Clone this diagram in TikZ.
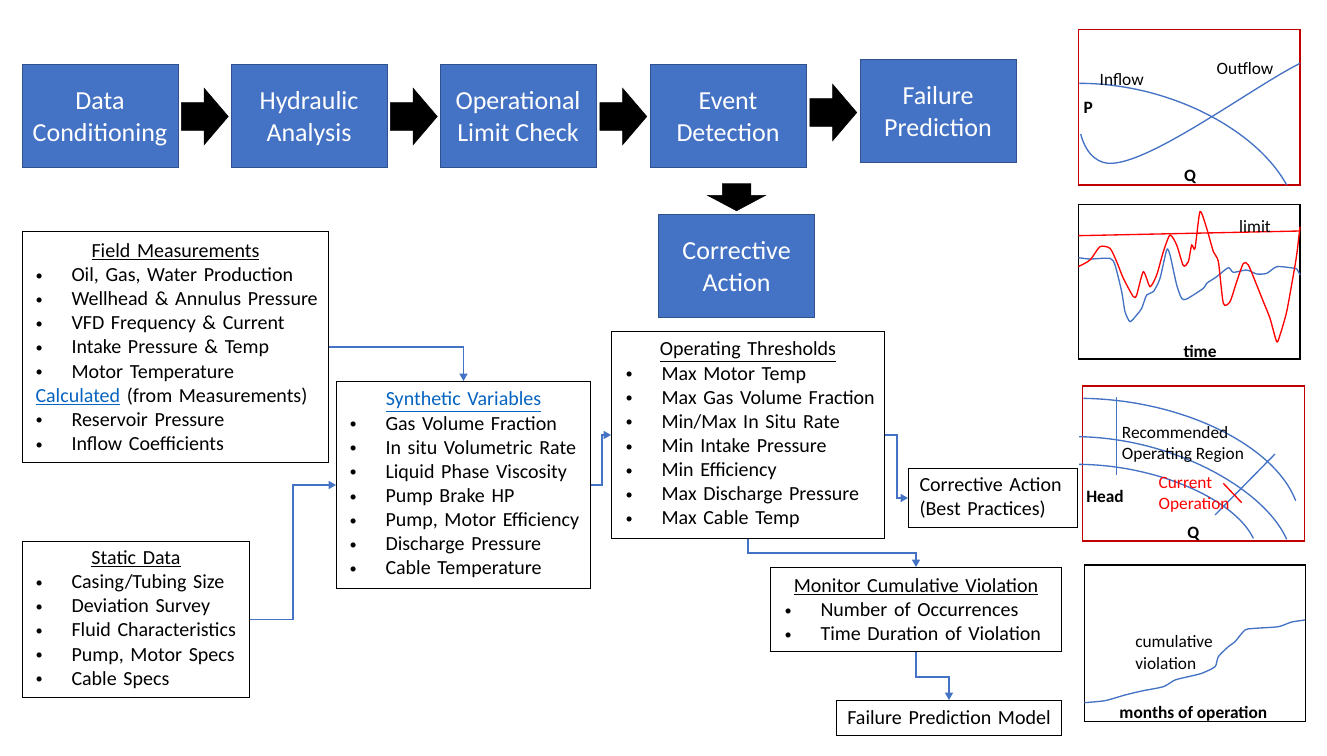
\documentclass[tikz,border=0pt]{standalone}
\usepackage{fontspec}
\setmainfont{Carlito}
\usepackage{tikz}
\usetikzlibrary{positioning,calc,shapes.arrows,arrows.meta}
\definecolor{stepBlue}{HTML}{4472C4}
\definecolor{stepEdge}{HTML}{2F528F}
\definecolor{linkBlue}{HTML}{0563C1}
\definecolor{chartRed}{HTML}{C00000}
\definecolor{curveRed}{HTML}{FF0000}
\setlength{\parindent}{0pt}
\newcommand{\bul}[1]{\mbox{\makebox[27pt][l]{\raisebox{1pt}{\scalebox{0.72}{\textbullet}}}#1}}
\newcommand{\boxhead}[1]{\centerline{\underline{#1}}}
\newcommand{\steptext}[2]{\rule{0pt}{18.75pt}#1\\#2\rule[-4.5pt]{0pt}{4.5pt}}

\begin{document}
\begin{tikzpicture}[x=0.75pt, y=-0.75pt,
	stepbox/.style={draw=stepEdge, line width=0.75pt, fill=stepBlue, text=white, minimum width=117pt, minimum height=77.25pt, align=center, font=\fontsize{19.5}{24}\selectfont},
	bigarrow/.style={single arrow, fill=black, draw=black, line width=0.4pt, inner xsep=0pt, inner ysep=10.125pt, minimum height=35.25pt, single arrow head extend=10.875pt, single arrow tip angle=99, anchor=tail},
	listbox/.style={draw, line width=0.75pt, fill=white, anchor=north west, inner xsep=9.75pt, inner ysep=0pt, align=left, font=\fontsize{15}{18.1}\selectfont},
	flow/.style={draw=stepBlue, line width=0.9pt, -{Triangle[width=6pt,length=5.5pt]}},
	chartlbl/.style={font=\fontsize{13}{16}\selectfont, inner sep=0pt},
	axislbl/.style={font=\fontsize{13}{16}\selectfont\bfseries, inner sep=0pt},
	curve/.style={stepBlue, line width=1pt}]
	\useasboundingbox (0,0) rectangle (1327,756);
	
	% Process blocks
	\node[stepbox] (dc) at (100,116.5) {\steptext{Data}{Conditioning}};
	\node[stepbox, right=39pt of dc] (ha) {\steptext{Hydraulic}{Analysis}};
	\node[stepbox, right=39pt of ha] (olc) {\steptext{Operational}{Limit Check}};
	\node[stepbox, right=39.75pt of olc] (ed) {\steptext{Event}{Detection}};
	\node[stepbox, right=39.75pt of ed, yshift=3.75pt] (fp) {\steptext{Failure}{Prediction}};
	\node[stepbox, below=33.75pt of ed, xshift=6.4pt] (ca) {\steptext{Corrective}{Action}};
	
	% Block arrows
	\node[bigarrow] (a1) at ($(dc.east)!0.5!(ha.west)+(-23.5,0)$) {};
	\node[bigarrow] (a2) at ($(ha.east)!0.5!(olc.west)+(-23.5,0)$) {};
	\node[bigarrow] (a3) at ($(olc.east)!0.5!(ed.west)+(-23.5,0)$) {};
	\node[bigarrow] (a4) at ($(ed.east)!0.5!(fp.west)+(-23.5,-1.5)$) {};
	\node[bigarrow, rotate=-90, inner ysep=10.5pt, minimum height=20.25pt, single arrow head extend=10.875pt, single arrow tip angle=124] (adn) at ($(ca.north)+(0,-30)$) {};
	
	% Data boxes
	\node[listbox, text width=210pt, minimum height=173.25pt] (fm) at (22,231) {\boxhead{Field Measurements}
		\bul{Oil, Gas, Water Production}\\
		\bul{Wellhead \& Annulus Pressure}\\
		\bul{VFD Frequency \& Current}\\
		\bul{Intake Pressure \& Temp}\\
		\bul{Motor Temperature}\\
		\mbox{{\color{linkBlue}\underline{Calculated}} (from Measurements)}\\
		\bul{Reservoir Pressure}\\
		\bul{Inflow Coefficients}};
	\node[listbox, text width=150.75pt, minimum height=117pt] (sd) at (22,541) {\boxhead{Static Data}
		\bul{Casing/Tubing Size}\\
		\bul{Deviation Survey}\\
		\bul{Fluid Characteristics}\\
		\bul{Pump, Motor Specs}\\
		\bul{Cable Specs}};
	\node[listbox, text width=171pt, minimum height=155.25pt] (sv) at (336,381) {{\color{linkBlue}\boxhead{Synthetic Variables}}
		\bul{Gas Volume Fraction}\\
		\bul{In situ Volumetric Rate}\\
		\bul{Liquid Phase Viscosity}\\
		\bul{Pump Brake HP}\\
		\bul{Pump, Motor Efficiency}\\
		\bul{Discharge Pressure}\\
		\bul{Cable Temperature}};
	\node[listbox, inner xsep=10.5pt, text width=183.75pt, minimum height=155.25pt] (ot) at (611,331) {\boxhead{Operating Thresholds}
		\bul{Max Motor Temp}\\
		\bul{Max Gas Volume Fraction}\\
		\bul{Min/Max In Situ Rate}\\
		\bul{Min Intake Pressure}\\
		\bul{Min Efficiency}\\
		\bul{Max Discharge Pressure}\\
		\bul{Max Cable Temp}};
	\node[listbox, inner xsep=8.25pt, text width=110.25pt, minimum height=44.25pt] (cab) at (908,468) {Corrective Action\\(Best Practices)};
	\node[listbox, inner xsep=10.5pt, text width=197.25pt, minimum height=63pt] (mcv) at (770,567) {\boxhead{Monitor Cumulative Violation}
		\bul{Number of Occurrences}\\
		\bul{Time Duration of Violation}};
	\node[listbox, align=center, inner xsep=0pt, text width=168.75pt, minimum height=26.25pt] (fpm) at (836,700) {Failure Prediction Model};
	
	% Connections
	\draw[flow] (fm.east) -| (sv.north);
	\draw[flow] (sd.east) -- ++(43,0) |- (sv.west);
	\draw[flow] (sv.east) -- ++(11,0) |- (ot.west);
	\draw[flow] (ot.east) -- ++(12,0) |- (cab.west);
	\draw[flow] (ot.south) -- ++(0,14) -| (mcv.north);
	\draw[flow] (mcv.south) -- ++(0,25) -| (fpm.north);
	
	% Inflow / outflow plot
	\begin{scope}[shift={(1070,20)}, x=0.25pt, y=-0.25pt]
		\draw[chartRed, line width=0.9pt] (25,28) rectangle (690,495);
		\draw[curve] (28,190) .. controls (300,190) and (560,330) .. (650,495);
		\draw[curve] (32,342) .. controls (50,410) and (90,432) .. (125,430) .. controls (250,425) and (550,200) .. (690,130);
		\node[chartlbl] (inflow) at (155,178) {Inflow};
		\node[chartlbl] (outflow) at (525,145) {Outflow};
		\node[axislbl] (pax) at (55,265) {P};
		\node[axislbl] (qax) at (360,470) {Q};
	\end{scope}
	
	% Time trend plot
	\begin{scope}[shift={(1070,195)}, x=0.25pt, y=-0.25pt]
		\draw[line width=0.9pt] (25,28) rectangle (690,492);
		\draw[curve] plot[smooth, tension=0.4] coordinates {(25,188) (60,192) (120,190) (135,210) (155,290) (165,350) (180,380) (200,360) (215,340) (230,300) (250,290) (270,250) (290,165) (300,180) (320,270) (335,310) (350,312) (400,280) (410,265) (440,245) (475,218) (490,232) (530,225) (560,237) (590,235) (620,215) (660,218) (680,222) (690,240)};
		\draw[curveRed, line width=1pt] plot[smooth, tension=0.4] coordinates {(25,215) (60,195) (90,155) (120,160) (140,200) (160,250) (190,305) (200,300) (220,230) (240,275) (260,240) (280,170) (300,120) (320,150) (340,212) (355,200) (365,150) (375,160) (390,50) (410,100) (430,170) (445,200) (460,325) (480,320) (500,260) (520,205) (535,210) (560,270) (580,320) (600,370) (620,440) (630,420) (650,350) (670,240) (680,180) (690,95)};
		\draw[curveRed, line width=1pt] (25,122) -- (690,108);
		\node[chartlbl] (limit) at (555,95) {limit};
		\node[axislbl] (tax) at (390,470) {time};
	\end{scope}
	
	% Pump curve plot
	\begin{scope}[shift={(1075,380)}, x=0.25pt, y=-0.25pt]
		\draw[chartRed, line width=0.9pt] (22,18) rectangle (688,483);
		\draw[curve] (25,55) .. controls (330,60) and (600,200) .. (662,362);
		\draw[curve] (12,170) .. controls (300,175) and (570,330) .. (635,478);
		\draw[curve] (12,253) .. controls (250,255) and (480,360) .. (535,475);
		\draw[curve] (125,52) -- (125,285);
		\draw[curve] (600,222) -- (420,405);
		\draw[curveRed, line width=1pt] (445,310) -- (500,368);
		\node[chartlbl, anchor=west, align=left] (rec) at (140,192.5) {Recommended\\Operating Region};
		\node[chartlbl, anchor=west, align=left, text=curveRed] (cur) at (250,343.5) {Current\\Operation};
		\node[axislbl] (hax) at (90,350) {Head};
		\node[axislbl] (qax2) at (355,462) {Q};
	\end{scope}
	
	% Cumulative violation plot
	\begin{scope}[shift={(1075,560)}, x=0.25pt, y=-0.25pt]
		\draw[line width=0.9pt] (28,15) rectangle (692,485);
		\draw[curve] plot[smooth, tension=0.4] coordinates {(28,428) (90,422) (150,405) (200,393) (265,380) (300,360) (340,350) (380,340) (420,320) (430,290) (460,260) (480,245) (510,210) (540,205) (610,200) (650,186) (690,180)};
		\node[chartlbl, anchor=west, align=left] (cum) at (180,277.5) {cumulative\\violation};
		\node[axislbl] (max) at (355,460) {months of operation};
	\end{scope}
\end{tikzpicture}
\end{document}
